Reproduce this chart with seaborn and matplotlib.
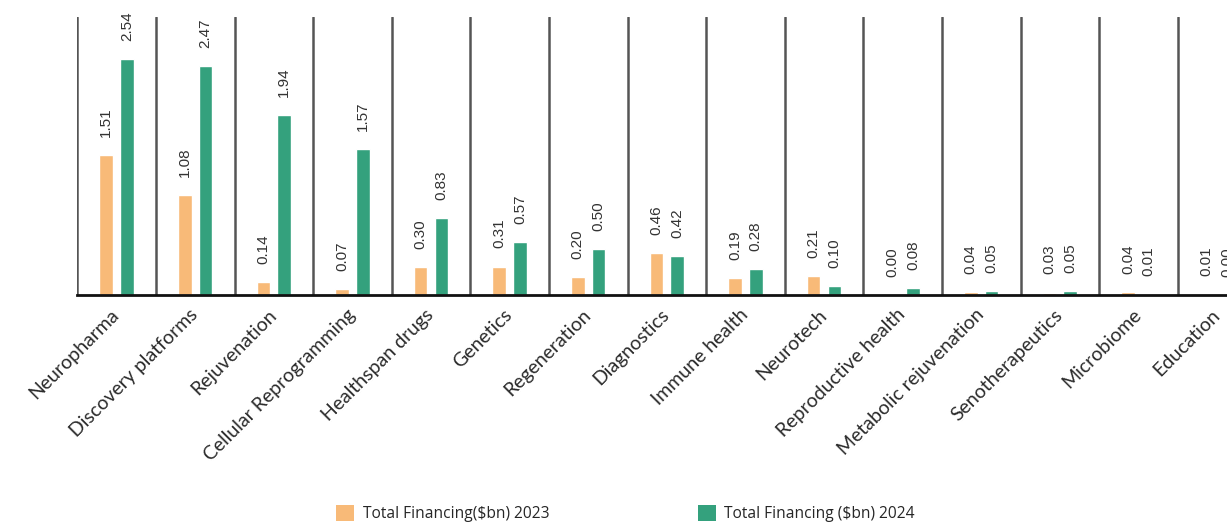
import matplotlib
matplotlib.use("Agg")
import matplotlib.pyplot as plt
from matplotlib.patches import Patch
import pandas as pd
import seaborn as sns

categories = [
    "Neuropharma", "Discovery platforms", "Rejuvenation", "Cellular Reprogramming",
    "Healthspan drugs", "Genetics", "Regeneration", "Diagnostics", "Immune health",
    "Neurotech", "Reproductive health", "Metabolic rejuvenation", "Senotherapeutics",
    "Microbiome", "Education",
]
financing_2023 = [1.51, 1.08, 0.14, 0.07, 0.30, 0.31, 0.20, 0.46, 0.19, 0.21,
                  0.00, 0.04, 0.03, 0.04, 0.01]
financing_2024 = [2.54, 2.47, 1.94, 1.57, 0.83, 0.57, 0.50, 0.42, 0.28, 0.10,
                  0.08, 0.05, 0.05, 0.01, 0.00]
series_labels = ["Total Financing($bn) 2023", "Total Financing ($bn) 2024"]
series_colors = ["#F8BA78", "#34A17D"]

n = len(categories)
df = pd.DataFrame({
    "Category": categories * 2,
    "Financing": financing_2023 + financing_2024,
    "Series": [series_labels[0]] * n + [series_labels[1]] * n,
})

sns.set_theme(style="white")
plt.rcParams["font.family"] = ["Liberation Sans", "DejaVu Sans"]

W, H = 1227, 523
fig = plt.figure(figsize=(W / 100, H / 100), dpi=100)
# the plotting area runs past the right edge, so the last group is cut off
ax = fig.add_axes([77.3 / W, 227.7 / H, 78.6 * n / W, (506.3 - 227.7) / H])

sns.barplot(data=df, x="Category", y="Financing", hue="Series",
            palette=series_colors, saturation=1, width=0.528, gap=0.35,
            legend=False, ax=ax)

ax.set_xlim(-0.5, n - 0.5)
ax.set_ylim(0, 3.0)

# separators between categories
for i in range(n):
    ax.axvline(i - 0.5, color="#555555", lw=1.8, zorder=0)

for side in ["top", "right", "left"]:
    ax.spines[side].set_visible(False)
ax.spines["bottom"].set_color("#111111")
ax.spines["bottom"].set_linewidth(2)
ax.spines["bottom"].set_zorder(5)

ax.set_yticks([])
ax.set_xlabel("")
ax.set_ylabel("")
ax.set_xticks(range(n))
ax.set_xticklabels(categories, rotation=45, ha="right", va="center",
                   rotation_mode="anchor",
                   fontfamily="Lato", fontsize=14, color="#2b2b2b")
ax.tick_params(axis="x", length=0, pad=12)

for container, vals in zip(ax.containers, [financing_2023, financing_2024]):
    ax.bar_label(container, labels=[f"{v:.2f}" for v in vals], rotation=90,
                 padding=13, fontsize=11, color="#333333")

handles = [Patch(facecolor=c, edgecolor="none", label=l)
           for c, l in zip(series_colors, series_labels)]
fig.legend(handles=handles, loc="lower left", bbox_to_anchor=(336 / W, 1 / H),
           ncol=2, frameon=False, borderpad=0, borderaxespad=0,
           handlelength=1.16, handleheight=1.16, handletextpad=0.55,
           columnspacing=9.55, prop={"family": "Open Sans", "size": 11.2})

fig.savefig("out.png", dpi=100)
